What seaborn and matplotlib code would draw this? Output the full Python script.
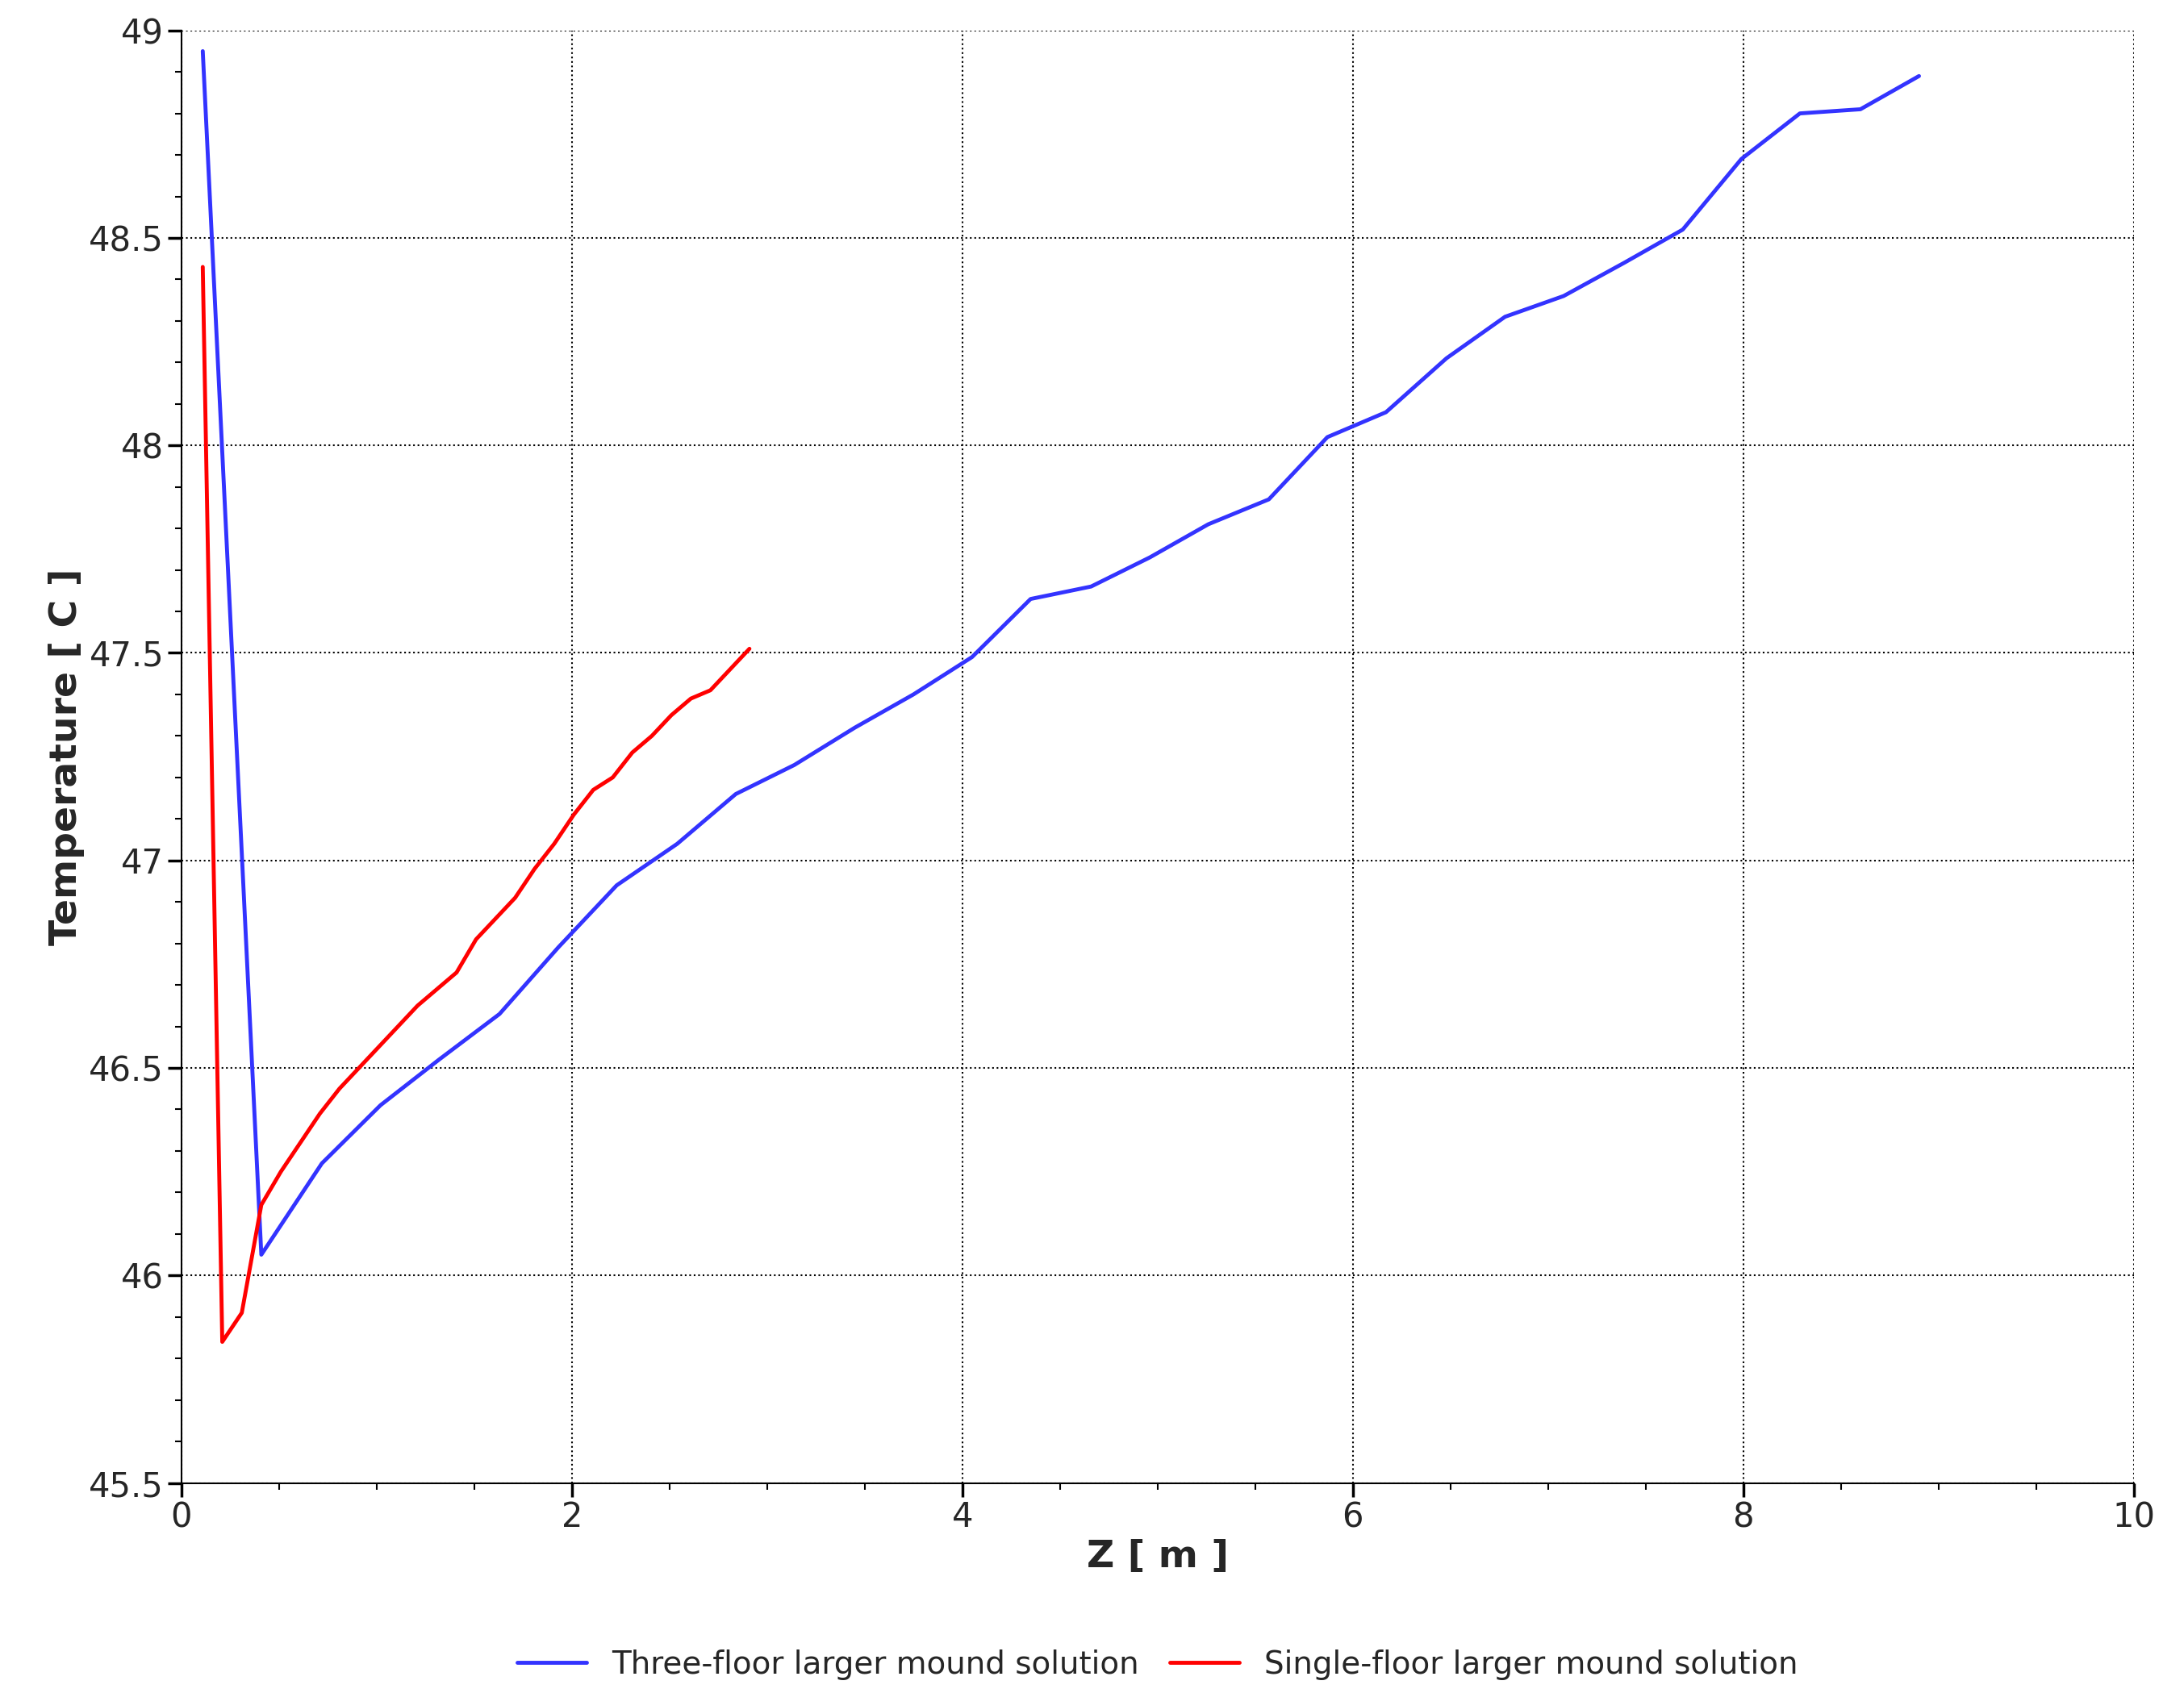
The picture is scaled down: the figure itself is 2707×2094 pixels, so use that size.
import matplotlib.pyplot as plt
import seaborn as sns
import pandas as pd
from matplotlib.ticker import AutoMinorLocator

blue_z = [0.11, 0.41, 0.72, 1.02, 1.32, 1.63, 1.93, 2.23, 2.54, 2.84, 3.14, 3.45, 3.75, 4.05, 4.35,
          4.66, 4.96, 5.26, 5.57, 5.87, 6.17, 6.48, 6.78, 7.08, 7.39, 7.69, 7.99, 8.29, 8.60, 8.90]
blue_t = [48.95, 46.05, 46.27, 46.41, 46.52, 46.63, 46.79, 46.94, 47.04, 47.16, 47.23, 47.32, 47.40, 47.49, 47.63,
          47.66, 47.73, 47.81, 47.87, 48.02, 48.08, 48.21, 48.31, 48.36, 48.44, 48.52, 48.69, 48.80, 48.81, 48.89]
red_z = [0.11, 0.21, 0.31, 0.41, 0.51, 0.61, 0.71, 0.81, 0.91, 1.01, 1.11, 1.21, 1.31, 1.41, 1.51,
         1.61, 1.71, 1.81, 1.91, 2.01, 2.11, 2.21, 2.31, 2.41, 2.51, 2.61, 2.71, 2.81, 2.91]
red_t = [48.43, 45.84, 45.91, 46.17, 46.25, 46.32, 46.39, 46.45, 46.50, 46.55, 46.60, 46.65, 46.69, 46.73, 46.81,
         46.86, 46.91, 46.98, 47.04, 47.11, 47.17, 47.20, 47.26, 47.30, 47.35, 47.39, 47.41, 47.46, 47.51]
labels = ['Three-floor larger mound solution', 'Single-floor larger mound solution']

df = pd.concat([
    pd.DataFrame({'z': blue_z, 't': blue_t, 'series': labels[0]}),
    pd.DataFrame({'z': red_z, 't': red_t, 'series': labels[1]}),
])

sns.set_style('white')
plt.rcParams['font.family'] = ['DejaVu Sans']
fig, ax = plt.subplots(figsize=(27.07, 20.94), dpi=100)
sns.lineplot(data=df, x='z', y='t', hue='series', palette=['#3333ff', '#ff0000'],
             linewidth=3.5, sort=False, ax=ax, legend=True)

ax.set_xlim(0, 10)
ax.set_ylim(45.5, 49)
ax.set_xticks(range(0, 11, 2))
ax.set_yticks([45.5, 46, 46.5, 47, 47.5, 48, 48.5, 49])
ax.set_yticklabels(['45.5', '46', '46.5', '47', '47.5', '48', '48.5', '49'])
ax.xaxis.set_minor_locator(AutoMinorLocator(4))
ax.yaxis.set_minor_locator(AutoMinorLocator(5))
ax.tick_params(axis='both', which='both', bottom=True, left=True, direction='out', color='black')
ax.tick_params(axis='both', which='major', labelsize=30, length=12, width=2.5)
ax.tick_params(axis='both', which='minor', length=6, width=1.5)
ax.grid(True, which='major', color='black', linestyle=':', linewidth=1.5)
for s in ['top', 'right']:
    ax.spines[s].set_visible(False)
for s in ['left', 'bottom']:
    ax.spines[s].set_color('black')
    ax.spines[s].set_linewidth(1.5)
ax.set_xlabel('Z [ m ]', fontsize=34, fontweight='bold')
ax.set_ylabel('Temperature [ C ]', fontsize=34, fontweight='bold')
ax.legend(loc='upper center', bbox_to_anchor=(0.5, -0.095), ncol=2, frameon=False,
          fontsize=28, handlelength=2.2, columnspacing=1.0)

plt.subplots_adjust(left=0.083, right=0.977, top=0.982, bottom=0.122)
plt.savefig('out.png')
